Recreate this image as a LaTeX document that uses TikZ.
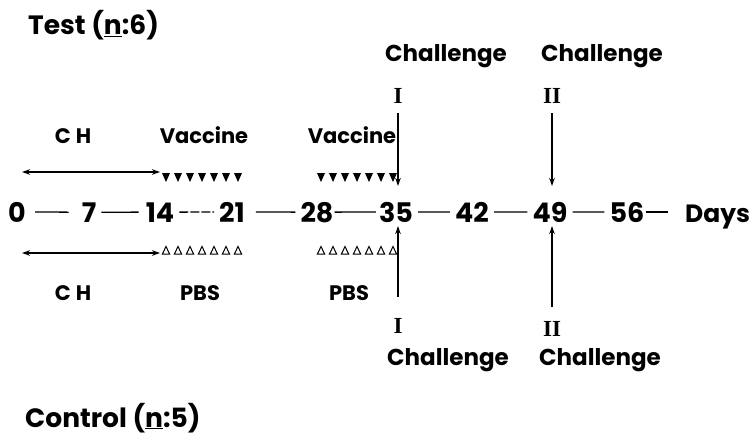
\documentclass[tikz,border=0pt]{standalone}
\usepackage{fontspec}
\setmainfont{Poppins}
\newfontfamily\romfont{Liberation Serif}
\usetikzlibrary{arrows.meta}
\begin{document}
\begin{tikzpicture}[x=1pt,y=-1pt,
  big/.style={font=\fontsize{26.5}{30}\selectfont\bfseries, inner sep=0pt, anchor=base west},
  lbl/.style={font=\fontsize{21}{24}\selectfont\bfseries, inner sep=0pt, anchor=base},
  chl/.style={font=\fontsize{23}{26}\selectfont\bfseries, inner sep=0pt, anchor=base},
  num/.style={font=\fontsize{27}{30}\selectfont\bfseries, inner ysep=0pt, inner xsep=5pt, anchor=base},
  rom/.style={font=\romfont\fontsize{23}{25}\selectfont\bfseries, inner sep=0pt, anchor=base},
  tl/.style={line width=1.3pt},
  arr/.style={line width=1.8pt, -{Stealth[length=8pt,width=5.5pt]}},
  dbl/.style={line width=1.8pt, {Stealth[length=8pt,width=5.5pt]}-{Stealth[length=8pt,width=5.5pt]}},
  trifill/.style={fill=black},
  triopen/.style={draw=black, line width=1pt, fill=white}
]
\useasboundingbox (0,0) rectangle (749,436);

% titles
\node[big] (test) at (28,35) {Test (\underline{n}:6)};
\node[big] (control) at (25,427) {Control (\underline{n}:5)};

% timeline
\node[num] (d0)  at (17,222)  {0};
\node[num] (d7)  at (89,222)  {7};
\node[num] (d14) at (160,222) {14};
\node[num] (d21) at (232,222) {21};
\node[num] (d28) at (317,222) {28};
\node[num] (d35) at (396,222) {35};
\node[num] (d42) at (472,222) {42};
\node[num] (d49) at (550,222) {49};
\node[num] (d56) at (627,222) {56};
\node[font=\fontsize{25}{28}\selectfont\bfseries, inner sep=0pt, anchor=base west] (days) at (685,222) {Days};

\draw[tl] ([xshift=4pt]d0.east) -- ([xshift=-8pt]d7.west);
\draw[tl] ([xshift=0pt]d7.east) -- ([xshift=-2pt]d14.west);
\draw[tl, dash pattern=on 9pt off 2pt] ([xshift=0pt]d14.east) -- ([xshift=0pt]d21.west);
\draw[tl] ([xshift=6pt]d21.east) -- ([xshift=0pt]d28.west);
\draw[tl] ([xshift=-4pt]d28.east) -- ([xshift=2pt]d35.west);
\draw[tl] (d35.east) -- (d42.west);
\draw[tl] (d42.east) -- (d49.west);
\draw[tl] (d49.east) -- (d56.west);
\draw[tl] ([xshift=-4pt]d56.east) -- ([xshift=-17pt]d56.east -| days.west);

% upper (test) group
\node[lbl] (ch1) at (73,143) {C\hspace{5pt}H};
\node[lbl] (vac1) at (204,143) {Vaccine};
\node[lbl] (vac2) at (352,143) {Vaccine};
\coordinate (cha) at (22,172);
\coordinate (chb) at (160,172);
\draw[dbl] (cha) -- (chb);
\foreach \x in {166,178,...,238,321,333,...,393}
  \fill[trifill] (\x-4,173) -- (\x+4,173) -- (\x,182) -- cycle;

% lower (control) group
\node[lbl] (ch2) at (73,300) {C\hspace{5pt}H};
\node[lbl] (pbs1) at (200,300) {PBS};
\node[lbl] (pbs2) at (349,300) {PBS};
\coordinate (cla) at (22,253);
\coordinate (clb) at (160,253);
\draw[dbl] (cla) -- (clb);
\foreach \x in {166,178,...,238,321,333,...,393}
  \draw[triopen] (\x-3.6,254) -- (\x+3.6,254) -- (\x,246.5) -- cycle;

% challenges top
\node[chl] (chal1t) at (446,61) {Challenge};
\node[chl] (chal2t) at (602,61) {Challenge};
\node[rom] (r1t) at (398,103) {I};
\node[rom] (r2t) at (552,103) {II};
\coordinate (a1s) at (398,113);
\coordinate (a1e) at (398,186);
\coordinate (a2s) at (552,113);
\coordinate (a2e) at (552,186);
\draw[arr] (a1s) -- (a1e);
\draw[arr] (a2s) -- (a2e);

% challenges bottom
\coordinate (b1s) at (398,297);
\coordinate (b1e) at (398,226);
\coordinate (b2s) at (552,307);
\coordinate (b2e) at (552,226);
\draw[arr] (b1s) -- (b1e);
\draw[arr] (b2s) -- (b2e);
\node[rom] (r1b) at (398,333) {I};
\node[rom] (r2b) at (552,336) {II};
\node[chl] (chal1b) at (448,365) {Challenge};
\node[chl] (chal2b) at (600,365) {Challenge};
\end{tikzpicture}
\end{document}
